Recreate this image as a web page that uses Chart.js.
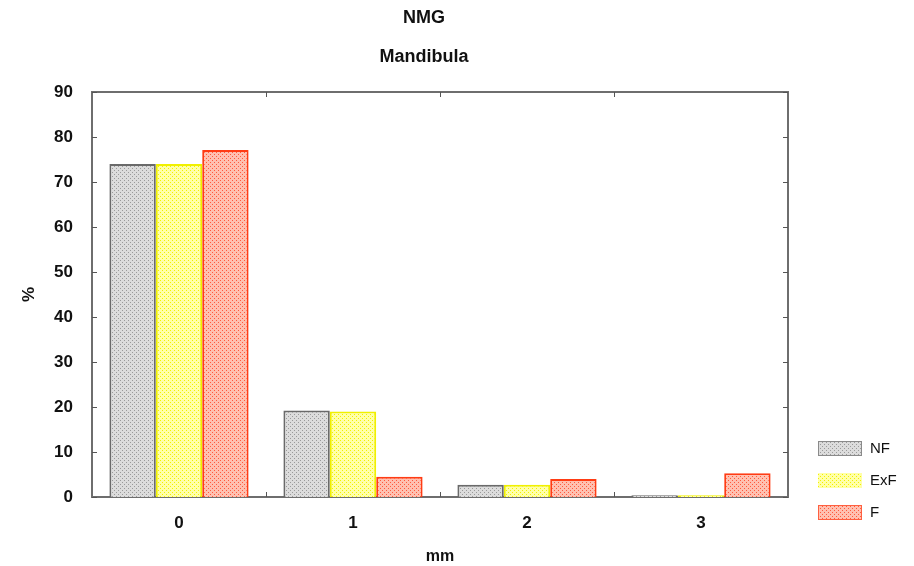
<!DOCTYPE html>
<html>
<head>
<meta charset="utf-8">
<script src="https://cdn.jsdelivr.net/npm/chart.js@4"></script>
<style>
  html, body { margin: 0; padding: 0; background: #fff; }
  #wrap { width: 914px; height: 566px; }
</style>
</head>
<body>
<div id="wrap"><canvas id="barChart" width="914" height="566"></canvas></div>
<script>
const categories = ['0', '1', '2', '3'];
const seriesNames = ['NF', 'ExF', 'F'];
const nfValues = [74, 19.2, 2.7, 0.4];
const exfValues = [74, 19, 2.7, 0.4];
const fValues = [77.1, 4.5, 4, 5.3];
const yTicks = [0, 10, 20, 30, 40, 50, 60, 70, 80, 90];

// small dotted fills for the bars
function makePattern(bg, dot) {
  const c = document.createElement('canvas');
  c.width = 4; c.height = 4;
  const g = c.getContext('2d');
  g.fillStyle = bg;
  g.fillRect(0, 0, 4, 4);
  g.fillStyle = dot;
  g.fillRect(0, 0, 1, 1);
  g.fillRect(2, 2, 1, 1);
  return g.createPattern(c, 'repeat');
}
const ctx = document.getElementById('barChart').getContext('2d');
const fills = [
  makePattern('#dcdcdc', '#9a9a9a'),
  makePattern('#ffffa8', '#f2f200'),
  makePattern('#ffc0b0', '#ff5a3c')
];
const borders = ['#6a6a6a', '#f0f000', '#ff3c14'];

const frameColor = '#6e6e6e';
const FONT = '"Liberation Sans", Arial, sans-serif';

// frame and inward ticks go under the bars; titles and legend on top
const decor = {
  id: 'decor',
  beforeDatasetsDraw(chart) {
    const c = chart.ctx;
    const a = chart.chartArea;
    const y = chart.scales.y;
    const x = chart.scales.x;
    c.save();
    c.strokeStyle = frameColor;
    c.lineWidth = 2;
    c.strokeRect(a.left, a.top, a.right - a.left, a.bottom - a.top);
    c.lineWidth = 1;
    c.strokeStyle = '#555';
    c.beginPath();
    yTicks.forEach(v => {
      const py = Math.round(y.getPixelForValue(v)) + 0.5;
      c.moveTo(a.left, py); c.lineTo(a.left + 5, py);
      c.moveTo(a.right, py); c.lineTo(a.right - 5, py);
    });
    for (let i = 1; i < categories.length; i++) {
      const px = Math.round((x.getPixelForValue(i - 1) + x.getPixelForValue(i)) / 2) + 0.5;
      c.moveTo(px, a.bottom); c.lineTo(px, a.bottom - 5);
      c.moveTo(px, a.top); c.lineTo(px, a.top + 5);
    }
    c.stroke();
    c.restore();
  },
  afterDraw(chart) {
    const c = chart.ctx;
    c.save();
    c.fillStyle = '#111';
    c.textAlign = 'center';
    c.textBaseline = 'middle';
    c.font = 'bold 18px ' + FONT;
    c.fillText('NMG', 424, 18);
    c.fillText('Mandibula', 424, 57);

    // legend
    c.textAlign = 'left';
    c.font = '15px ' + FONT;
    seriesNames.forEach((name, i) => {
      const top = 441 + i * 32;
      c.fillStyle = fills[i];
      c.fillRect(818, top, 44, 15);
      if (i !== 1) {
        c.strokeStyle = i === 0 ? '#8a8a8a' : '#ff6040';
        c.lineWidth = 1;
        c.strokeRect(818.5, top + 0.5, 43, 14);
      }
      c.fillStyle = '#111';
      c.fillText(name, 870, top + 8);
    });
    c.restore();
  }
};

const valueSets = [nfValues, exfValues, fValues];

new Chart(ctx, {
  type: 'bar',
  data: {
    labels: categories,
    datasets: seriesNames.map((name, i) => ({
      label: name,
      data: valueSets[i],
      backgroundColor: fills[i],
      borderColor: borders[i],
      borderWidth: 2,
      borderSkipped: 'bottom',
      categoryPercentage: 0.8,
      barPercentage: 1
    }))
  },
  options: {
    responsive: false,
    animation: false,
    layout: { padding: { top: 92, right: 126, left: 0, bottom: 0 } },
    plugins: {
      legend: { display: false },
      tooltip: { enabled: false }
    },
    scales: {
      x: {
        grid: { display: false },
        border: { display: false },
        afterFit: s => { s.height = 69; },
        ticks: {
          padding: 8,
          color: '#111',
          font: { family: FONT, size: 17, weight: 'bold' }
        },
        title: {
          display: true,
          text: 'mm',
          color: '#111',
          padding: { top: 4, bottom: 0 },
          font: { family: FONT, size: 16, weight: 'bold' }
        }
      },
      y: {
        min: 0,
        max: 90,
        grid: { display: false },
        border: { display: false },
        afterFit: s => { s.width = 92; },
        afterBuildTicks: s => { s.ticks = yTicks.map(v => ({ value: v })); },
        ticks: {
          padding: 11,
          color: '#111',
          font: { family: FONT, size: 17, weight: 'bold' }
        },
        title: {
          display: true,
          text: '%',
          color: '#111',
          padding: { top: 19, bottom: 0 },
          font: { family: FONT, size: 17, weight: 'bold' }
        }
      }
    }
  },
  plugins: [decor]
});
</script>
</body>
</html>
